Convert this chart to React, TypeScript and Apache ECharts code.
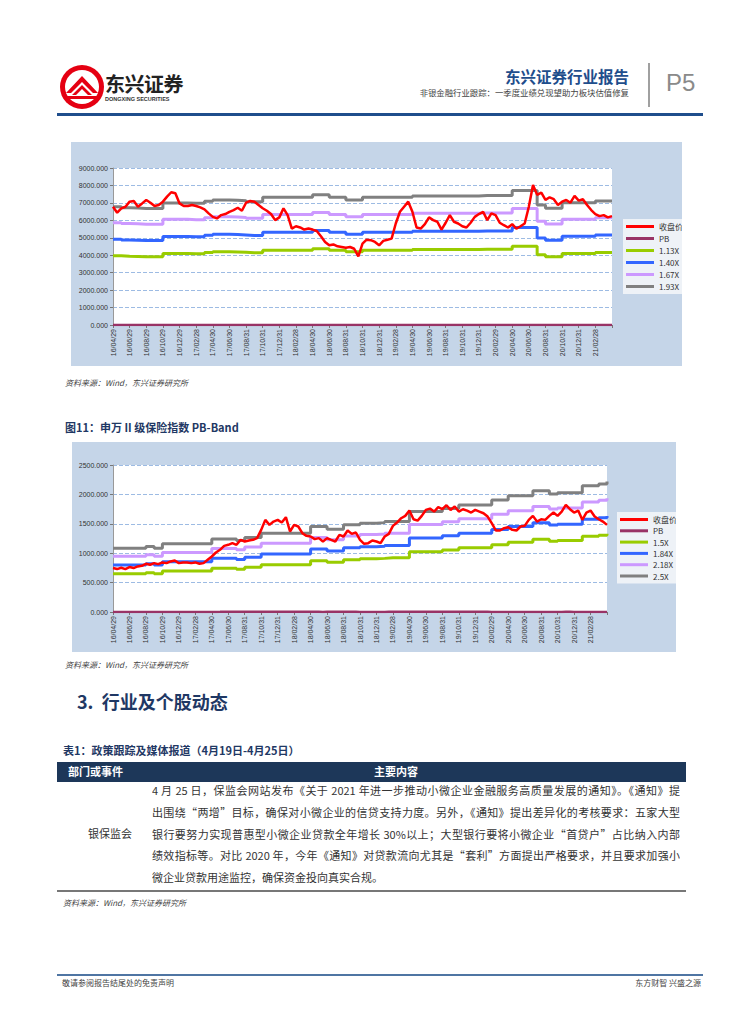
import React, { useEffect, useRef } from "react";
import * as echarts from "echarts";

// ---------- data ----------
const X_LABELS = [
  "16/04/29", "16/06/29", "16/08/29", "16/10/29", "16/12/29", "17/02/28", "17/04/30", "17/06/30",
  "17/08/31", "17/10/31", "17/12/31", "18/02/28", "18/04/30", "18/06/30", "18/08/31", "18/10/31",
  "18/12/31", "19/02/28", "19/04/30", "19/06/30", "19/08/31", "19/10/31", "19/12/31", "20/02/29",
  "20/04/30", "20/06/30", "20/08/31", "20/10/31", "20/12/31", "21/02/28",
];

// chart 1 (half-month closes, index points)
const CLOSE_1 = [
  6780, 6440, 6690, 6780, 7070, 7110, 6780, 6970, 7170, 7010,
  6820, 6880, 7070, 7360, 7610, 7550, 6970, 6820, 6820, 6880,
  6820, 6740, 6630, 6400, 6200, 6110, 6300, 6360, 6490, 6590,
  6720, 6550, 7010, 7110, 7070, 6880, 6690, 6550, 6360, 6010,
  6170, 6690, 6300, 5530, 5660, 5590, 5470, 5530, 5470, 5390,
  5090, 4760, 4570, 4620, 4510, 4470, 4430, 4470, 4370, 3930,
  4660, 4890, 4860, 4760, 4570, 4820, 4890, 4950, 5820, 6490,
  6780, 7070, 6490, 5590, 5530, 5780, 6170, 6010, 5920, 5470,
  5860, 6300, 5920, 5820, 5660, 5590, 5860, 6200, 6360, 6490,
  6010, 6400, 6300, 5860, 5720, 5590, 5780, 5530, 5660, 5820,
  6780, 8030, 7460, 7590, 7170, 7320, 7210, 6880, 7070, 7170,
  7010, 7400, 7130, 7210, 6880, 6590, 6360, 6240, 6300, 6170,
  6240,
];
// chart 1 monthly book value per share (index points)
const BPS_1 = [
  3513, 3482, 3472, 3461, 3461, 3461, 3627, 3627, 3627, 3617,
  3617, 3679, 3715, 3715, 3705, 3689, 3663, 3663, 3793, 3793,
  3793, 3793, 3793, 3793, 3865, 3865, 3793, 3793, 3715, 3715,
  3793, 3793, 3793, 3793, 3793, 3793, 3834, 3834, 3834, 3834,
  3834, 3834, 3834, 3834, 3845, 3845, 3845, 3845, 3995, 3995,
  3995, 3565, 3466, 3466, 3632, 3632, 3632, 3632, 3684, 3684,
  3684,
];
const MULT_1 = [1.13, 1.4, 1.67, 1.93];
const LEGEND_1 = ["收盘价", "PB", "1.13X", "1.40X", "1.67X", "1.93X"];

// chart 2
const CLOSE_2 = [
  747, 730, 752, 730, 764, 747, 775, 786, 820, 803,
  831, 814, 843, 831, 860, 877, 831, 843, 843, 831,
  843, 820, 831, 888, 944, 1012, 1058, 1125, 1143, 1171,
  1143, 1227, 1199, 1216, 1227, 1256, 1397, 1567, 1482, 1538,
  1567, 1521, 1612, 1369, 1482, 1454, 1340, 1295, 1284, 1239,
  1256, 1199, 1256, 1227, 1199, 1312, 1284, 1386, 1329, 1352,
  1227, 1160, 1171, 1216, 1199, 1171, 1284, 1329, 1465, 1521,
  1595, 1635, 1725, 1578, 1555, 1635, 1736, 1759, 1708, 1782,
  1748, 1816, 1736, 1793, 1708, 1748, 1725, 1691, 1736, 1708,
  1680, 1623, 1510, 1386, 1386, 1425, 1442, 1397, 1386, 1454,
  1465, 1567, 1635, 1538, 1578, 1567, 1635, 1691, 1635, 1708,
  1821, 1748, 1691, 1725, 1567, 1691, 1725, 1623, 1578, 1538,
  1482,
];
const BPS_2 = [
  434, 434, 434, 434, 446, 434, 464, 464, 464, 464,
  464, 464, 496, 496, 496, 486, 507, 507, 536, 536,
  536, 536, 536, 536, 582, 582, 563, 563, 593, 593,
  604, 604, 608, 615, 615, 615, 683, 683, 683, 683,
  704, 704, 728, 728, 728, 728, 762, 762, 790, 790,
  790, 824, 824, 803, 812, 812, 812, 858, 858, 871,
  887,
];
const MULT_2 = [1.5, 1.84, 2.18, 2.5];
const LEGEND_2 = ["收盘价", "PB", "1.5X", "1.84X", "2.18X", "2.5X"];

const COLORS = ["#ff0000", "#993366", "#99cc00", "#3366ff", "#cc99ff", "#808080"];

const TABLE_LINES = [
  "4 月 25 日，保监会网站发布《关于 2021 年进一步推动小微企业金融服务高质量发展的通知》。《通知》提",
  "出围绕“两增”目标，确保对小微企业的信贷支持力度。另外，《通知》提出差异化的考核要求：五家大型",
  "银行要努力实现普惠型小微企业贷款全年增长 30%以上；大型银行要将小微企业“首贷户”占比纳入内部",
  "绩效指标等。对比 2020 年，今年《通知》对贷款流向尤其是“套利”方面提出严格要求，并且要求加强小",
  "微企业贷款用途监控，确保资金投向真实合规。",
];

// ---------- option builder ----------
function buildOption(
  close: number[],
  bps: number[],
  mult: number[],
  names: string[],
  yMax: number,
  yInt: number,
  grid: any,
  legendPos: any,
  legendGap: number
) {
  const closeData = close.map((v, i) => [i / 2, v]);
  const pbData = close.map((v, i) => [i / 2, v / bps[Math.floor(i / 2)]]);
  const bandSeries = mult.map((m, k) => ({
    name: names[k + 2],
    type: "line",
    step: "end",
    showSymbol: false,
    data: bps.map((b, i) => [i, b * m]),
    lineStyle: { width: 3, color: COLORS[k + 2] },
    itemStyle: { color: COLORS[k + 2] },
    z: 2,
  }));
  return {
    animation: false,
    backgroundColor: "#c5d5e8",
    textStyle: { fontFamily: "Liberation Sans, Noto Sans CJK SC" },
    grid: { ...grid, show: true, backgroundColor: "#ffffff", borderWidth: 0 },
    legend: {
      ...legendPos,
      orient: "vertical",
      icon: "rect",
      itemWidth: 28,
      itemHeight: 3,
      itemGap: legendGap,
      padding: [3, 3, 3, 3],
      backgroundColor: "#eef2f7",
      data: names,
      textStyle: { fontSize: 8, lineHeight: 9, color: "#333", fontFamily: "Noto Sans CJK SC" },
    },
    xAxis: {
      type: "value",
      min: 0,
      max: 60,
      interval: 2,
      axisLine: { show: true, lineStyle: { color: "#888" } },
      axisTick: { show: true, length: 3, lineStyle: { color: "#777" } },
      splitLine: { show: false },
      axisLabel: {
        rotate: 90,
        fontSize: 7,
        color: "#333",
        margin: 4,
        formatter: (v: number) => X_LABELS[Math.round(v / 2)] ?? "",
      },
    },
    yAxis: {
      type: "value",
      min: 0,
      max: yMax,
      interval: yInt,
      axisLine: { show: true, lineStyle: { color: "#999" } },
      axisTick: { show: true, length: 3, lineStyle: { color: "#777" } },
      splitLine: { show: true, lineStyle: { type: "dashed", color: "#9dbbe3", width: 1 } },
      axisLabel: {
        fontSize: 7,
        color: "#333",
        margin: 5,
        formatter: (v: number) => v.toFixed(3),
      },
    },
    series: [
      {
        name: names[0],
        type: "line",
        showSymbol: false,
        data: closeData,
        lineStyle: { width: 2.5, color: COLORS[0] },
        itemStyle: { color: COLORS[0] },
        z: 5,
      },
      {
        name: names[1],
        type: "line",
        showSymbol: false,
        data: pbData,
        lineStyle: { width: 2.5, color: COLORS[1] },
        itemStyle: { color: COLORS[1] },
        z: 4,
      },
      ...bandSeries,
    ],
  };
}

function Chart({ option, style }: { option: any; style: React.CSSProperties }) {
  const ref = useRef<HTMLDivElement>(null);
  useEffect(() => {
    if (!ref.current) return;
    const chart = echarts.init(ref.current, undefined, { renderer: "svg" });
    chart.setOption(option);
    return () => chart.dispose();
  }, []);
  return <div ref={ref} style={{ position: "absolute", ...style }} />;
}

const CJK = "'Noto Sans CJK SC', 'Noto Sans', sans-serif";
const NAVY = "#1f3864";

function T({ x, y, children, style }: { x: number; y: number; children: any; style?: React.CSSProperties }) {
  return (
    <div style={{ position: "absolute", left: x, top: y, whiteSpace: "nowrap", fontFamily: CJK, lineHeight: 1, ...style }}>
      {children}
    </div>
  );
}

export default function App() {
  const opt1 = buildOption(
    CLOSE_1, BPS_1, MULT_1, LEGEND_1, 9000, 1000,
    { left: 42, top: 26, right: 70, bottom: 41 },
    { left: 552, top: 77 },
    3
  );
  const opt2 = buildOption(
    CLOSE_2, BPS_2, MULT_2, LEGEND_2, 2500, 500,
    { left: 41, top: 23, right: 69, bottom: 40 },
    { left: 545, top: 70 },
    2.3
  );
  return (
    <div
      style={{
        position: "absolute",
        left: 0,
        top: 0,
        width: 755,
        height: 1024,
        background: "#fff",
        overflow: "hidden",
        fontFamily: CJK,
      }}
    >
      {/* header logo */}
      <svg style={{ position: "absolute", left: 58, top: 63 }} width={48} height={48} viewBox="0 0 48 48">
        <circle cx={24} cy={24} r={22} fill="#e50012" />
        <circle cx={24} cy={24} r={17} fill="#fff" />
        <polygon points="8,30 24,13 40,30 35,30 24,19 13,30" fill="#e50012" />
        <polygon points="14,32 24,22 34,32 30,32 24,26 18,32" fill="#e50012" />
        <rect x={6} y={33} width={36} height={3} fill="#e50012" />
      </svg>
      <T x={105} y={74} style={{ fontSize: 20, fontWeight: 700, color: "#222", letterSpacing: -0.5 }}>
        东兴证券
      </T>
      <T x={105} y={97} style={{ fontSize: 5.5, fontWeight: 700, color: "#333", fontFamily: "Liberation Sans" }}>
        DONGXING SECURITIES
      </T>
      <div
        style={{
          position: "absolute",
          right: 755 - 629,
          top: 69,
          fontSize: 15.5,
          fontWeight: 700,
          color: "#1f4e8c",
          fontFamily: CJK,
          lineHeight: 1,
          whiteSpace: "nowrap",
        }}
      >
        东兴证券行业报告
      </div>
      <div
        style={{
          position: "absolute",
          right: 755 - 629,
          top: 88,
          fontSize: 8.4,
          color: "#444",
          fontFamily: CJK,
          lineHeight: 1,
          whiteSpace: "nowrap",
        }}
      >
        非银金融行业跟踪：一季度业绩兑现望助力板块估值修复
      </div>
      <div style={{ position: "absolute", left: 648, top: 63, width: 1.5, height: 44, background: "#a0a0a0" }} />
      <T x={666} y={71} style={{ fontSize: 24, color: "#8a8a8a", fontFamily: "Liberation Sans" }}>
        P5
      </T>
      <div style={{ position: "absolute", left: 57, top: 113, width: 646, height: 3, background: "#1f4e8c" }} />

      {/* chart 1 */}
      <Chart option={opt1} style={{ left: 71, top: 142, width: 611, height: 224 }} />
      <T x={65} y={379} style={{ fontSize: 8, color: "#444", fontStyle: "italic" }}>
        资料来源：Wind，东兴证券研究所
      </T>

      {/* chart 2 */}
      <T x={65} y={422} style={{ fontSize: 11, fontWeight: 700, color: NAVY }}>
        图11：申万 II 级保险指数 PB-Band
      </T>
      <Chart option={opt2} style={{ left: 72, top: 442, width: 604, height: 210 }} />
      <T x={65} y={661} style={{ fontSize: 8, color: "#444", fontStyle: "italic" }}>
        资料来源：Wind，东兴证券研究所
      </T>

      {/* section heading */}
      <T x={77} y={692} style={{ fontSize: 18, fontWeight: 700, color: NAVY }}>
        3.&nbsp;&nbsp;行业及个股动态
      </T>

      {/* table */}
      <T x={63} y={745} style={{ fontSize: 11, fontWeight: 700, color: NAVY }}>
        表1：政策跟踪及媒体报道（4月19日-4月25日）
      </T>
      <div style={{ position: "absolute", left: 57, top: 762, width: 629, height: 20, background: "#1d3759" }} />
      <T x={68} y={766} style={{ fontSize: 11, fontWeight: 700, color: "#fff" }}>
        部门或事件
      </T>
      <div
        style={{
          position: "absolute",
          left: 296,
          top: 766,
          width: 200,
          textAlign: "center",
          fontSize: 11,
          fontWeight: 700,
          color: "#fff",
          lineHeight: 1,
          fontFamily: CJK,
        }}
      >
        主要内容
      </div>
      <div
        style={{
          position: "absolute",
          left: 60,
          top: 828,
          width: 100,
          textAlign: "center",
          fontSize: 11,
          color: "#333",
          lineHeight: 1,
          fontFamily: CJK,
        }}
      >
        银保监会
      </div>
      {TABLE_LINES.map((line, i) => (
        <div
          key={i}
          style={{
            position: "absolute",
            left: 152,
            top: 780 + i * 21.8,
            width: 528,
            height: 21.8,
            lineHeight: "21.8px",
            fontSize: 11,
            color: "#333",
            fontFamily: CJK,
            textAlign: i < TABLE_LINES.length - 1 ? "justify" : "left",
            textAlignLast: i < TABLE_LINES.length - 1 ? "justify" : "left",
            overflow: "hidden",
          }}
        >
          {line}
        </div>
      ))}
      <div style={{ position: "absolute", left: 57, top: 890, width: 629, height: 1.5, background: "#777" }} />
      <T x={63} y={899} style={{ fontSize: 8, color: "#444", fontStyle: "italic" }}>
        资料来源：Wind，东兴证券研究所
      </T>

      {/* footer */}
      <div style={{ position: "absolute", left: 57, top: 974, width: 646, height: 2, background: "#4f75a3" }} />
      <T x={62} y={979} style={{ fontSize: 8, color: "#444" }}>
        敬请参阅报告结尾处的免责声明
      </T>
      <div
        style={{
          position: "absolute",
          right: 755 - 701,
          top: 979,
          fontSize: 8,
          color: "#444",
          lineHeight: 1,
          whiteSpace: "nowrap",
          fontFamily: CJK,
        }}
      >
        东方财智 兴盛之源
      </div>
    </div>
  );
}
